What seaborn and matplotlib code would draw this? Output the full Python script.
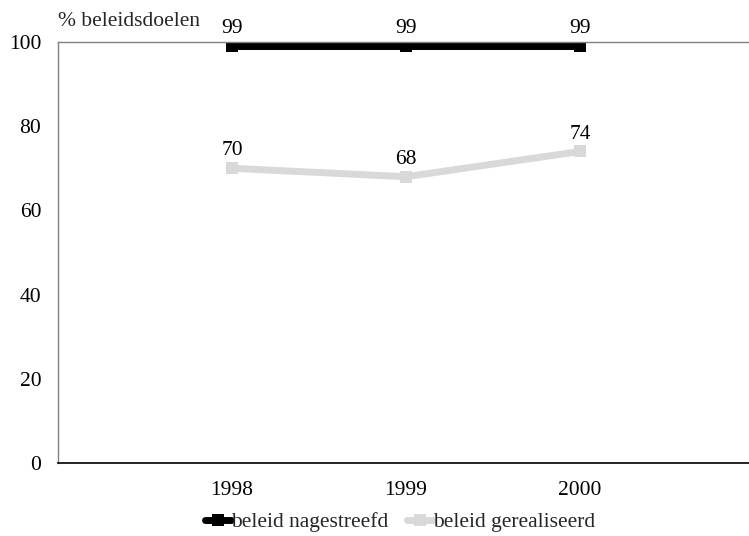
import matplotlib
matplotlib.use("Agg")
import matplotlib.pyplot as plt
import seaborn as sns
import pandas as pd

jaren = ["1998", "1999", "2000"]
nagestreefd = [99, 99, 99]
gerealiseerd = [70, 68, 74]
series_namen = ["beleid nagestreefd", "beleid gerealiseerd"]
kleuren = ["#000000", "#d9d9d9"]

df = pd.DataFrame({
    "jaar": jaren * 2,
    "pos": [1, 2, 3] * 2,
    "waarde": nagestreefd + gerealiseerd,
    "reeks": [series_namen[0]] * 3 + [series_namen[1]] * 3,
})

sns.set_theme(style="white")
plt.rcParams["font.family"] = ["Liberation Serif", "DejaVu Serif"]
FS = 15.5

W, H = 749, 536
fig = plt.figure(figsize=(W / 100, H / 100), dpi=100)
ax = fig.add_axes([58 / W, 1 - 463 / H, 696 / W, 421 / H])

sns.lineplot(data=df, x="pos", y="waarde", hue="reeks", palette=kleuren,
             hue_order=series_namen, marker="s", markersize=9, linewidth=5,
             markeredgewidth=0, ax=ax, legend=True)

# waardelabels boven elk punt
for _, r in df.iterrows():
    ax.annotate(str(r["waarde"]), (r["pos"], r["waarde"]), xytext=(0, 12.5),
                textcoords="offset points", ha="center", va="center",
                fontsize=FS, color="#000000")

ax.set_xlim(0, 4)
ax.set_ylim(0, 100)
ax.set_xticks([1, 2, 3])
ax.set_xticklabels(jaren)
ax.set_yticks([0, 20, 40, 60, 80, 100])
ax.tick_params(axis="both", length=0, labelsize=FS, colors="#000000")
ax.tick_params(axis="x", pad=13)
ax.tick_params(axis="y", pad=12)
ax.set_xlabel("")
ax.set_ylabel("")

for s in ["top", "left"]:
    ax.spines[s].set_color("#808080")
    ax.spines[s].set_linewidth(1)
ax.spines["bottom"].set_color("#000000")
ax.spines["bottom"].set_linewidth(1.2)
ax.spines["right"].set_visible(False)

fig.text(58 / W, 1 - 22 / H, "% beleidsdoelen", fontsize=FS, va="center", ha="left")

leg = ax.legend(loc="center", bbox_to_anchor=(400 / W, 1 - 522 / H),
                bbox_transform=fig.transFigure, ncol=2, frameon=False,
                fontsize=FS, handlelength=1.2, handletextpad=0.0,
                columnspacing=0.9)

fig.savefig("out.png", dpi=100)
